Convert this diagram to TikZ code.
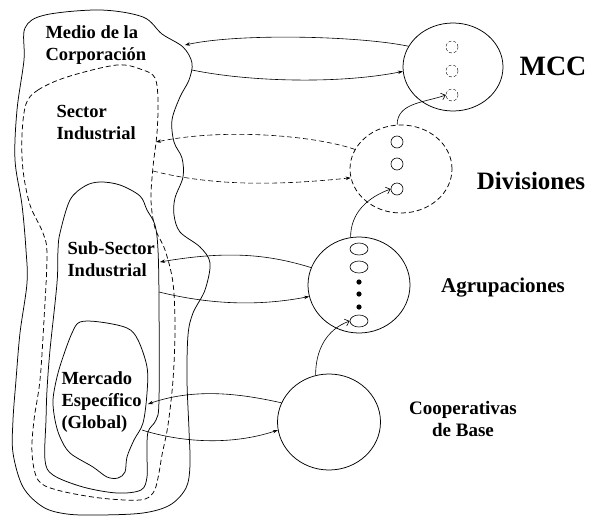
\documentclass[tikz,border=0pt]{standalone}
\usepackage{fontspec}
\setmainfont{Liberation Serif}
\usetikzlibrary{arrows.meta,shapes.geometric}
\newcommand{\lblfont}{\fontsize{18.5}{22}\selectfont\bfseries}
\tikzset{
  unit/.style={ellipse,draw,line width=0.75pt,inner sep=0pt},
  blob/.style={line width=0.75pt},
  longdash/.style={dash pattern=on 5pt off 3pt},
  hole/.style={circle,draw,line width=0.6pt,minimum size=12pt,inner sep=0pt},
  cell/.style={ellipse,draw,line width=0.6pt,minimum width=18pt,minimum height=12pt,inner sep=0pt},
  flowarr/.style={line width=0.6pt,-{Stealth[length=5pt,width=3.5pt]}},
  uparr/.style={line width=0.6pt,-{Straight Barb[length=4pt,width=7pt]}},
}

\begin{document}
\begin{tikzpicture}[x=1pt,y=-1pt]
			%%%%% START %%%%%
			\useasboundingbox (0,0) rectangle (589,517);
			
			% nested environments
			\draw[blob] plot[smooth cycle,tension=0.55] coordinates {(25,28) (45,15) (100,10) (143,17) (162,34) (183,47) (192,63) (189,80) (180,97) (172,120) (174,142) (182,158) (183,177) (175,198) (174,215) (180,232) (200,247) (210,263) (205,290) (193,313) (188,335) (187,380) (189,430) (190,465) (186,488) (170,505) (143,513) (100,515) (67,514) (43,507) (23,487) (13,453) (13,420) (16,380) (20,333) (27,283) (26,250) (22,205) (15,160) (17,110) (24,60)};
			\draw[blob,longdash] plot[smooth cycle,tension=0.55] coordinates {(26,104) (38,90) (67,77) (117,65) (143,70) (155,78) (158,100) (157,133) (153,167) (151,200) (155,228) (165,250) (173,283) (175,330) (173,380) (168,425) (162,455) (158,478) (153,493) (140,500) (100,498) (57,490) (38,480) (32,453) (34,420) (40,380) (44,320) (47,255) (43,233) (30,205) (23,170) (22,135)};
			\draw[blob] plot[smooth cycle,tension=0.55] coordinates {(60,233) (70,200) (85,186) (100,182) (120,185) (140,196) (147,210) (155,225) (158,250) (159,300) (159,400) (156,420) (148,432) (147,455) (147,477) (141,490) (117,493) (83,487) (53,475) (45,460) (46,420) (47,390) (50,350) (57,283) (58,250)};
			\draw[blob] plot[smooth cycle,tension=0.55] coordinates {(80,322) (100,322) (127,328) (138,340) (147,367) (147,393) (143,423) (134,440) (127,457) (125,472) (118,478) (107,477) (93,467) (70,453) (60,437) (55,420) (53,400) (57,377) (63,357) (72,333)};
			
			\node[anchor=west,align=left,font=\lblfont] (medio) at (42,45) {Medio de la\\Corporación};
			\node[anchor=west,align=left,font=\lblfont] (sector) at (53,122) {Sector\\Industrial};
			\node[anchor=west,align=left,font=\lblfont] (subsector) at (64,259) {Sub-Sector\\Industrial};
			\node[anchor=west,align=left,font=\lblfont] (mercado) at (58,402) {Mercado\\Específico\\(Global)};
			
			\coordinate (medioIn) at (185,45);
			\coordinate (medioOut) at (192,70);
			\coordinate (sectorIn) at (156,142);
			\coordinate (sectorOut) at (153,171);
			\coordinate (subIn) at (160,262);
			\coordinate (subOut) at (159,292);
			\coordinate (mercIn) at (148,404);
			\coordinate (mercOut) at (142,430);
			
			% levels of the corporation
			\node[unit,minimum width=100pt,minimum height=88pt] (mcc) at (453,67) {};
			\node[hole,densely dashed,line width=0.4pt] (m1) at (452,47) {};
			\node[hole,densely dashed,line width=0.4pt] (m2) at (452,71) {};
			\node[hole,densely dashed,line width=0.4pt] (m3) at (452,95) {};
			
			\node[unit,longdash,minimum width=102pt,minimum height=88pt] (div) at (401,169) {};
			\node[hole] (d1) at (397,142) {};
			\node[hole] (d2) at (397,164) {};
			\node[hole] (d3) at (397,189) {};
			
			\node[unit,minimum width=102pt,minimum height=96pt] (agr) at (359,285) {};
			\node[cell] (a1) at (359,249) {};
			\node[cell] (a2) at (359,267) {};
			\foreach \y in {282,294,307}
				\fill (359,\y) circle (2.6);
			\node[cell] (a3) at (359,321) {};
			
			\node[unit,minimum width=103pt,minimum height=96pt] (coop) at (329,422) {};
			
			\node[font=\fontsize{28}{30}\selectfont\bfseries] (mcclbl) at (553,66) {MCC};
			\node[font=\fontsize{25}{28}\selectfont\bfseries] (divlbl) at (531,181) {Divisiones};
			\node[font=\fontsize{21}{24}\selectfont\bfseries] (agrlbl) at (503,288) {Agrupaciones};
			\node[align=center,font=\fontsize{19}{22}\selectfont\bfseries] (cooplbl) at (463,419) {Cooperativas\\de Base};
			
			% exchanges with the environments
			\draw[flowarr] (mcc.155) .. controls (360,36) and (240,33) .. (medioIn);
			\draw[flowarr] (medioOut) .. controls (250,82) and (340,84) .. (mcc.185);
			\draw[flowarr,longdash] (div.157) .. controls (320,137) and (230,127) .. (sectorIn);
			\draw[flowarr,longdash] (sectorOut) .. controls (220,188) and (290,184) .. (div.190);
			\draw[flowarr] (agr.160) .. controls (270,255) and (230,250) .. (subIn);
			\draw[flowarr] (subOut) .. controls (200,302) and (250,308) .. (agr.193);
			\draw[flowarr] (coop.158) .. controls (250,396) and (200,386) .. (mercIn);
			\draw[flowarr] (mercOut) .. controls (180,442) and (230,446) .. (coop.189);
			
			% upward links
			\draw[uparr] (coop.106) to[out=90,in=200] (a3.west);
			\draw[uparr] (agr.100) to[out=90,in=200] (d3.west);
			\draw[uparr] (div.95) to[out=90,in=200] (m3.west);
			
			%%%%% END %%%%%
\end{tikzpicture}
\end{document}
